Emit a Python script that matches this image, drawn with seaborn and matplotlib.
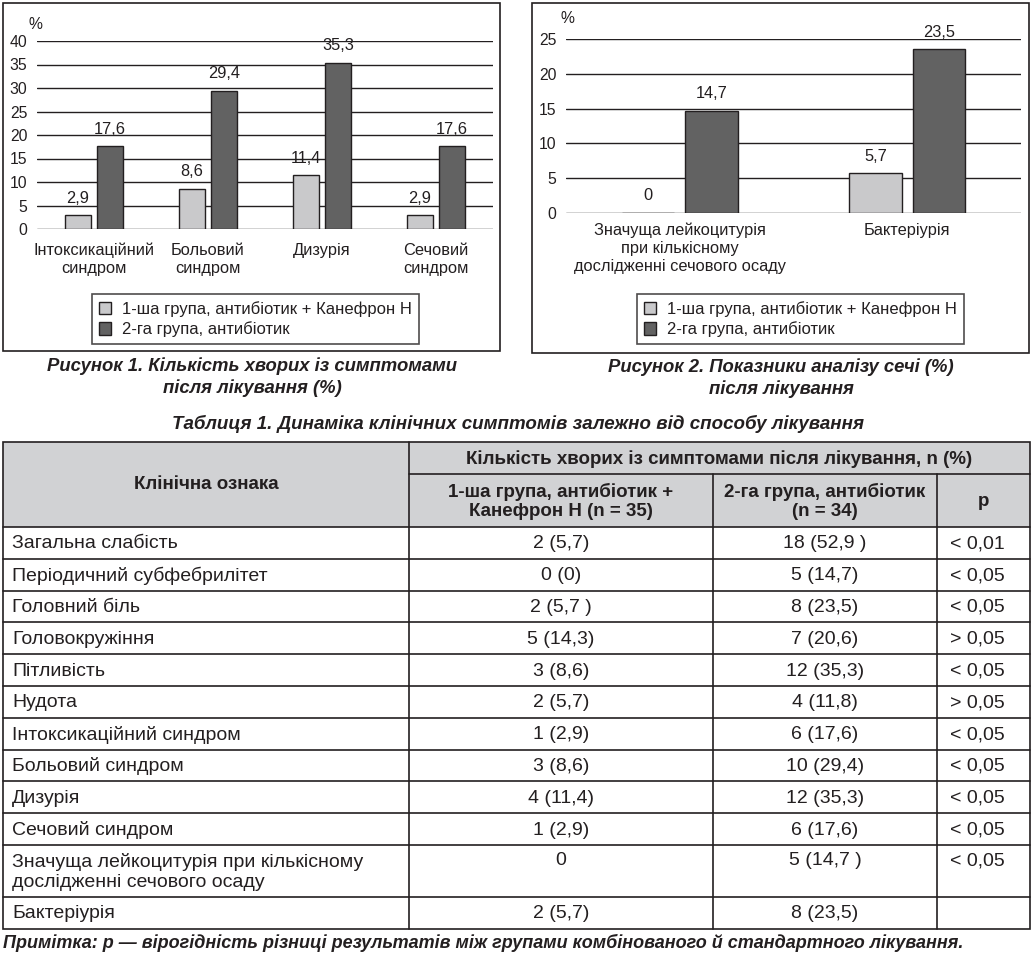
import matplotlib
matplotlib.use('Agg')
import matplotlib.pyplot as plt
import seaborn as sns
import pandas as pd
from matplotlib.patches import Rectangle

# ---------------- data ----------------
groups = ['1-ша група, антибіотик + Канефрон Н', '2-га група, антибіотик']

fig1_categories = ['Інтоксикаційний\nсиндром', 'Больовий\nсиндром', 'Дизурія', 'Сечовий\nсиндром']
fig1_group1 = [2.9, 8.6, 11.4, 2.9]
fig1_group2 = [17.6, 29.4, 35.3, 17.6]
fig1_yticks = [0, 5, 10, 15, 20, 25, 30, 35, 40]

fig2_categories = ['Значуща лейкоцитурія\nпри кількісному\nдослідженні сечового осаду', 'Бактеріурія']
fig2_group1 = [0, 5.7]
fig2_group2 = [14.7, 23.5]
fig2_yticks = [0, 5, 10, 15, 20, 25]

fig1_caption = 'Рисунок 1. Кількість хворих із симптомами\nпісля лікування (%)'
fig2_caption = 'Рисунок 2. Показники аналізу сечі (%)\nпісля лікування'

table_title = 'Таблиця 1. Динаміка клінічних симптомів залежно від способу лікування'
table_header_main = 'Кількість хворих із симптомами після лікування, n (%)'
table_header_sign = 'Клінічна ознака'
table_header_cols = ['1-ша група, антибіотик +\nКанефрон Н (n = 35)', '2-га група, антибіотик\n(n = 34)', 'р']
table_signs = ['Загальна слабість', 'Періодичний субфебрилітет', 'Головний біль', 'Головокружіння',
               'Пітливість', 'Нудота', 'Інтоксикаційний синдром', 'Больовий синдром', 'Дизурія',
               'Сечовий синдром', 'Значуща лейкоцитурія при кількісному\nдослідженні сечового осаду',
               'Бактеріурія']
table_group1 = ['2 (5,7)', '0 (0)', '2 (5,7 )', '5 (14,3)', '3 (8,6)', '2 (5,7)', '1 (2,9)',
                '3 (8,6)', '4 (11,4)', '1 (2,9)', '0', '2 (5,7)']
table_group2 = ['18 (52,9 )', '5 (14,7)', '8 (23,5)', '7 (20,6)', '12 (35,3)', '4 (11,8)', '6 (17,6)',
                '10 (29,4)', '12 (35,3)', '6 (17,6)', '5 (14,7 )', '8 (23,5)']
table_p = ['< 0,01', '< 0,05', '< 0,05', '> 0,05', '< 0,05', '> 0,05', '< 0,05', '< 0,05',
           '< 0,05', '< 0,05', '< 0,05', '']
table_note = 'Примітка: р — вірогідність різниці результатів між групами комбінованого й стандартного лікування.'

# ---------------- style ----------------
sns.set_style('white')
plt.rcParams['font.family'] = ['Liberation Sans', 'DejaVu Sans']
plt.rcParams['text.color'] = '#231f20'

LIGHT = '#c9c9cb'
DARK = '#626262'
INK = '#231f20'
palette = {groups[0]: LIGHT, groups[1]: DARK}

W, H = 1033, 956
fig = plt.figure(figsize=(W / 100, H / 100), dpi=100)

# background axes in pixel coordinates
bg = fig.add_axes([0, 0, 1, 1])
bg.set_xlim(0, W)
bg.set_ylim(H, 0)
bg.axis('off')


def fax(x0, y0, x1, y1):
    return [x0 / W, 1 - y1 / H, (x1 - x0) / W, (y1 - y0) / H]


def fmt(v):
    return '0' if v == 0 else f'{v:.1f}'.replace('.', ',')


def draw_chart(rect, cats, g1, g2, yticks, tickpad, legend_rect):
    ax = fig.add_axes(rect)
    df = pd.DataFrame({
        'cat': cats * 2,
        'grp': [groups[0]] * len(cats) + [groups[1]] * len(cats),
        'val': list(g1) + list(g2),
    })
    sns.barplot(data=df, x='cat', y='val', hue='grp', palette=palette, order=cats,
                hue_order=groups, width=0.56, gap=0.18, edgecolor=INK, linewidth=1.0,
                saturation=1, ax=ax, zorder=3)
    for cont, vals in zip(ax.containers, [g1, g2]):
        ax.bar_label(cont, labels=[fmt(v) for v in vals], padding=7, fontsize=11.8, color=INK)
    ax.set_ylim(yticks[0], yticks[-1])
    ax.set_yticks(yticks)
    ax.yaxis.grid(True, color=INK, linewidth=1.0, zorder=0)
    ax.set_axisbelow(True)
    for s in ax.spines.values():
        s.set_visible(False)
    ax.tick_params(axis='both', length=0, labelsize=11.3, colors=INK)
    ax.tick_params(axis='y', pad=7)
    ax.tick_params(axis='x', pad=tickpad, labelsize=11.8)
    for lab in ax.get_xticklabels():
        lab.set_linespacing(1.25)
    ax.set_xlabel('')
    ax.set_ylabel('')
    ax.set_facecolor('none')
    handles, labels = ax.get_legend_handles_labels()
    if ax.get_legend() is not None:
        ax.get_legend().remove()
    lx0, ly0, lx1, ly1 = legend_rect
    leg = ax.legend(handles, labels, loc='upper left',
                    bbox_to_anchor=(lx0 / W, 1 - ly1 / H, (lx1 - lx0) / W, (ly1 - ly0) / H),
                    bbox_transform=fig.transFigure, mode='expand', borderaxespad=0,
                    fontsize=12, frameon=True, fancybox=False, edgecolor=INK,
                    handlelength=0.75, handleheight=0.75, handletextpad=0.65,
                    labelspacing=0.3, borderpad=0.4)
    leg.get_frame().set_linewidth(1.2)
    return ax


ax1 = draw_chart(fax(37, 41, 493, 229), fig1_categories, fig1_group1, fig1_group2,
                 fig1_yticks, 10, (92, 294, 419, 342))
ax2 = draw_chart(fax(566, 39, 1021, 213), fig2_categories, fig2_group1, fig2_group2,
                 fig2_yticks, 7, (637, 294, 964, 343))

# panel borders, % labels, captions
bg.add_patch(Rectangle((3, 3), 497, 348, fill=False, edgecolor=INK, linewidth=1.2))
bg.add_patch(Rectangle((532, 3), 497, 350, fill=False, edgecolor=INK, linewidth=1.2))
bg.text(35, 24, '%', ha='center', va='center', fontsize=11.3)
bg.text(567, 18, '%', ha='center', va='center', fontsize=11.3)
bg.text(252, 377, fig1_caption, ha='center', va='center', fontsize=13.3,
        fontweight='bold', fontstyle='italic', linespacing=1.28)
bg.text(781, 378, fig2_caption, ha='center', va='center', fontsize=13.3,
        fontweight='bold', fontstyle='italic', linespacing=1.28)

# ---------------- table ----------------
bg.text(518, 424, table_title, ha='center', va='center', fontsize=13.5,
        fontweight='bold', fontstyle='italic')

X0, X1, X2, X3, X4 = 3, 409, 713, 937, 1030
YT, YM, YH = 442, 474, 527
row_h = [31.8] * 10 + [52, 32]
ys = [YH]
for h in row_h:
    ys.append(ys[-1] + h)
YB = ys[-1]

bg.add_patch(Rectangle((X0, YT), X4 - X0, YH - YT, facecolor='#d1d2d4', edgecolor='none'))
lw = 1.2
bg.add_patch(Rectangle((X0, YT), X4 - X0, YB - YT, fill=False, edgecolor=INK, linewidth=lw))
bg.plot([X1, X4], [YM, YM], color=INK, lw=lw)
for y in ys[:-1]:
    bg.plot([X0, X4], [y, y], color=INK, lw=lw)
bg.plot([X1, X1], [YT, YB], color=INK, lw=lw)
bg.plot([X2, X2], [YM, YB], color=INK, lw=lw)
bg.plot([X3, X3], [YM, YB], color=INK, lw=lw)

TFS = 14
HFS = 13.5
bg.text((X0 + X1) / 2, (YT + YH) / 2, table_header_sign, ha='center', va='center',
        fontsize=HFS, fontweight='bold')
bg.text((X1 + X4) / 2, (YT + YM) / 2 + 1, table_header_main, ha='center', va='center',
        fontsize=HFS, fontweight='bold')
for (a, b), lab in zip([(X1, X2), (X2, X3), (X3, X4)], table_header_cols):
    bg.text((a + b) / 2, (YM + YH) / 2 + 1, lab, ha='center', va='center',
            fontsize=HFS, fontweight='bold', linespacing=1.2)

for i, (s, g1, g2, p) in enumerate(zip(table_signs, table_group1, table_group2, table_p)):
    y0, y1 = ys[i], ys[i + 1]
    if '\n' in s:
        bg.text(12, (y0 + y1) / 2 + 1, s, ha='left', va='center', fontsize=TFS, linespacing=1.25)
        yv = y0 + 16
    else:
        bg.text(12, (y0 + y1) / 2 + 1, s, ha='left', va='center', fontsize=TFS)
        yv = (y0 + y1) / 2 + 1
    bg.text((X1 + X2) / 2, yv, g1, ha='center', va='center', fontsize=TFS)
    bg.text((X2 + X3) / 2, yv, g2, ha='center', va='center', fontsize=TFS)
    bg.text((X3 + X4) / 2 - 6, yv, p, ha='center', va='center', fontsize=TFS)

bg.text(3, 943, table_note, ha='left', va='center', fontsize=13.0,
        fontweight='bold', fontstyle='italic')

fig.savefig('out.png', dpi=100)
